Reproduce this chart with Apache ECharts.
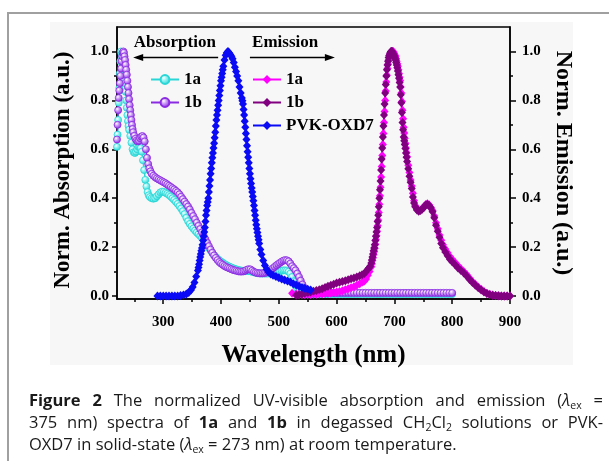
<!DOCTYPE html>
<html>
<head>
<meta charset="utf-8">
<script src="https://cdn.jsdelivr.net/npm/echarts@6/dist/echarts.min.js"></script>
<style>
  body { margin: 0; background: #fff; width: 609px; height: 461px; overflow: hidden; position: relative; }
  #frame { position: absolute; left: 7px; top: 12px; width: 700px; height: 500px; border-left: 2px solid #a0a0a0; border-top: 2px solid #a0a0a0; }
  #plotbg { position: absolute; left: 50px; top: 22px; width: 523px; height: 343px; background: #f7f7f7; }
  #chart { position: absolute; left: 0; top: 0; width: 609px; height: 461px; }
  #caption { position: absolute; left: 29px; top: 389px; width: 574px; font-family: "Open Sans", sans-serif; font-size: 16.5px; line-height: 22px; color: #1a1a1a; }
  #caption div { white-space: nowrap; }
  #caption .j { text-align: justify; text-align-last: justify; }
  #caption sub { font-size: 10.5px; line-height: 0; vertical-align: -3px; }
</style>
</head>
<body>
<div id="frame"></div>
<div id="plotbg"></div>
<div id="chart"></div>
<div id="caption">
  <div class="j"><b>Figure 2</b> The normalized UV-visible absorption and emission (<i>λ</i><sub>ex</sub> =</div>
  <div class="j">375 nm) spectra of <b>1a</b> and <b>1b</b> in degassed CH<sub>2</sub>Cl<sub>2</sub> solutions or PVK-</div>
  <div>OXD7 in solid-state (<i>λ</i><sub>ex</sub> = 273 nm) at room temperature.</div>
</div>
<script>
// tick positions
var xMajorTicks = [300, 400, 500, 600, 700, 800, 900];
var xMinorTicks = [250, 350, 450, 550, 650, 750, 850];
var yMajorTicks = [0, 0.2, 0.4, 0.6, 0.8, 1.0];
var yMinorTicks = [0.1, 0.3, 0.5, 0.7, 0.9];

// absorption 1a (CH2Cl2), [nm, norm. abs]
var abs1a = [
  [220,0.61],[221,0.66],[222,0.72],[223,0.79],[224,0.85],[225,0.91],[226,0.96],[227,1.0],[228,0.99],[229,0.98],
  [230,0.965],[231,0.95],[232,0.93],[233,0.9],[234,0.87],[235,0.835],[236,0.8],[237,0.77],[238,0.74],[239,0.715],
  [240,0.695],[241,0.68],[243,0.655],[245,0.627],[247,0.6],[249,0.588],[251,0.585],[253,0.59],[255,0.6],[257,0.61],
  [259,0.61],[261,0.605],[263,0.59],[265,0.555],[267,0.515],[269,0.475],[271,0.448],[273,0.425],[275,0.412],[277,0.405],
  [280,0.4],[283,0.398],[286,0.4],[289,0.408],[292,0.416],[295,0.424],[298,0.427],[301,0.426],[304,0.422],[307,0.418],
  [310,0.413],[313,0.407],[316,0.4],[319,0.393],[322,0.385],[325,0.377],[328,0.368],[331,0.358],[334,0.347],[337,0.335],
  [340,0.32],[343,0.306],[346,0.295],[349,0.285],[352,0.276],[355,0.268],[358,0.26],[361,0.253],[364,0.246],[367,0.238],
  [370,0.228],[373,0.217],[376,0.206],[379,0.196],[382,0.186],[385,0.176],[388,0.167],[391,0.159],[394,0.152],[397,0.146],
  [400,0.141],[403,0.136],[406,0.131],[409,0.127],[412,0.123],[415,0.12],[418,0.117],[421,0.114],[424,0.111],[427,0.109],
  [430,0.107],[433,0.105],[436,0.104],[439,0.103],[442,0.102],[445,0.102],[448,0.102],[451,0.101],[454,0.099],[457,0.097],
  [460,0.095],[463,0.094],[466,0.093],[469,0.092],[472,0.092],[475,0.092],[478,0.092],[481,0.092],[484,0.093],[487,0.094],
  [490,0.095],[493,0.097],[496,0.099],[499,0.1],[502,0.102],[505,0.104],[508,0.105],[511,0.105],[514,0.104],[517,0.1],
  [520,0.092],[523,0.078],[526,0.06],[529,0.042],[532,0.028],[535,0.018],[538,0.012],[542,0.009],[546,0.008],[550,0.008],
  [555,0.008],[560,0.008],[565,0.008],[570,0.008],[575,0.008],[580,0.008],[585,0.008],[590,0.008],[595,0.008],[600,0.008],
  [605,0.008],[610,0.008],[615,0.008],[620,0.008],[625,0.008],[630,0.008],[635,0.008],[640,0.008],[645,0.008],[650,0.008],
  [655,0.008],[660,0.008],[665,0.008],[670,0.008],[675,0.008],[680,0.008],[685,0.008],[690,0.008],[695,0.008],[700,0.008],
  [705,0.008],[710,0.008],[715,0.008],[720,0.008],[725,0.008],[730,0.008],[735,0.008],[740,0.008],[745,0.008],[750,0.008],
  [755,0.008],[760,0.008],[765,0.008],[770,0.008],[775,0.008],[780,0.008],[785,0.008],[790,0.008],[795,0.008],[800,0.008]
];

// absorption 1b (CH2Cl2)
var abs1b = [
  [220,0.64],[221,0.7],[222,0.76],[223,0.81],[224,0.84],[225,0.87],[226,0.9],[227,0.93],[228,0.96],[229,0.98],
  [230,0.995],[231,1.0],[232,0.995],[233,0.98],[234,0.965],[235,0.945],[236,0.925],[237,0.905],[238,0.88],[239,0.855],
  [240,0.83],[241,0.805],[242,0.78],[243,0.76],[244,0.74],[245,0.72],[246,0.7],[247,0.683],[248,0.67],[250,0.655],
  [252,0.643],[254,0.636],[256,0.632],[258,0.635],[260,0.645],[262,0.652],[264,0.654],[266,0.648],[268,0.632],[270,0.6],
  [272,0.565],[274,0.54],[276,0.522],[278,0.51],[280,0.5],[283,0.492],[286,0.486],[289,0.481],[292,0.477],[295,0.473],
  [298,0.469],[301,0.465],[304,0.461],[307,0.456],[310,0.451],[313,0.446],[316,0.441],[319,0.436],[322,0.43],[325,0.424],
  [328,0.416],[331,0.406],[334,0.396],[337,0.386],[340,0.376],[343,0.366],[346,0.354],[349,0.34],[352,0.327],[355,0.314],
  [358,0.3],[361,0.287],[364,0.274],[367,0.26],[370,0.246],[373,0.232],[376,0.218],[379,0.204],[382,0.19],[385,0.177],
  [388,0.166],[391,0.156],[394,0.147],[397,0.139],[400,0.133],[403,0.128],[406,0.123],[409,0.119],[412,0.116],[415,0.113],
  [418,0.11],[421,0.107],[424,0.105],[427,0.103],[430,0.101],[433,0.1],[436,0.1],[439,0.101],[442,0.104],[445,0.108],
  [448,0.11],[451,0.109],[454,0.104],[457,0.099],[460,0.096],[463,0.094],[466,0.093],[469,0.093],[472,0.093],[475,0.094],
  [478,0.096],[481,0.099],[484,0.103],[487,0.108],[490,0.114],[493,0.12],[496,0.126],[499,0.131],[502,0.136],[505,0.141],
  [508,0.145],[511,0.147],[514,0.146],[517,0.142],[520,0.133],[523,0.122],[526,0.114],[529,0.105],[532,0.092],[535,0.078],
  [538,0.063],[541,0.047],[544,0.033],[547,0.023],[550,0.017],[553,0.015],
  [555,0.013],[560,0.013],[565,0.013],[570,0.013],[575,0.013],[580,0.013],[585,0.013],[590,0.013],[595,0.013],[600,0.013],
  [605,0.013],[610,0.013],[615,0.013],[620,0.013],[625,0.013],[630,0.013],[635,0.013],[640,0.013],[645,0.013],[650,0.013],
  [655,0.013],[660,0.013],[665,0.013],[670,0.013],[675,0.013],[680,0.013],[685,0.013],[690,0.013],[695,0.013],[700,0.013],
  [705,0.013],[710,0.013],[715,0.013],[720,0.013],[725,0.013],[730,0.013],[735,0.013],[740,0.013],[745,0.013],[750,0.013],
  [755,0.013],[760,0.013],[765,0.013],[770,0.013],[775,0.013],[780,0.013],[785,0.013],[790,0.013],[795,0.013],[800,0.013]
];

// emission 1a (CH2Cl2, λex = 375 nm)
var em1a = [
  [523,0.012],[530,0.008],[535,0.007],[540,0.006],[545,0.006],[550,0.006],[555,0.006],[560,0.007],[565,0.007],[570,0.008],
  [575,0.009],[580,0.01],[585,0.011],[590,0.013],[595,0.015],[600,0.017],[605,0.019],[610,0.022],[615,0.026],[620,0.03],
  [625,0.034],[630,0.038],[635,0.044],[640,0.05],[645,0.057],[648,0.062],[651,0.07],[654,0.085],[657,0.1],[660,0.12],
  [661,0.132],[662,0.145],[663,0.157],[664,0.17],[665,0.182],[666,0.195],[667,0.212],[668,0.23],[669,0.247],[670,0.265],
  [671,0.287],[672,0.31],[673,0.342],[674,0.375],[675,0.41],[676,0.445],[677,0.487],[678,0.53],[679,0.575],[680,0.62],
  [681,0.665],[682,0.71],[683,0.755],[684,0.8],[685,0.838],[686,0.875],[687,0.903],[688,0.93],[689,0.948],[690,0.965],
  [691,0.975],[692,0.985],[693,0.99],[694,0.995],[695,0.998],[696,1.0],[697,1.0],[698,1.0],[699,0.995],[700,0.99],
  [701,0.985],[702,0.98],[703,0.97],[704,0.96],[705,0.95],[706,0.94],[707,0.925],[708,0.91],[709,0.895],[710,0.88],
  [711,0.855],[712,0.83],[713,0.795],[714,0.76],[715,0.725],[716,0.69],[717,0.667],[718,0.645],[719,0.625],[720,0.605],
  [721,0.587],[722,0.57],[724,0.535],[726,0.505],[728,0.475],[730,0.45],[732,0.42],[734,0.39],[736,0.37],[739,0.355],[742,0.35],
  [745,0.352],[748,0.357],[751,0.365],[754,0.373],[757,0.377],[760,0.373],[763,0.363],[766,0.35],[769,0.327],[772,0.3],
  [775,0.275],[778,0.25],[781,0.228],[784,0.21],[788,0.192],[792,0.177],[796,0.162],[800,0.15],[805,0.137],[810,0.124],
  [815,0.112],[820,0.1],[825,0.088],[830,0.074],[835,0.06],[840,0.048],[845,0.037],[850,0.028],[855,0.019],[860,0.012],
  [865,0.007],[870,0.004],[875,0.002],[880,0.001],[885,0],[890,0],[895,0],[900,0]
];

// emission 1b (CH2Cl2, λex = 375 nm)
var em1b = [
  [530,0.003],[535,0.005],[540,0.008],[545,0.011],[550,0.014],[555,0.017],[560,0.02],[565,0.023],[570,0.026],[575,0.03],
  [580,0.035],[585,0.04],[590,0.044],[595,0.048],[600,0.053],[605,0.056],[610,0.06],[615,0.063],[620,0.067],[625,0.071],
  [630,0.074],[635,0.078],[640,0.083],[644,0.087],[648,0.092],[651,0.1],[654,0.11],[656,0.115],[658,0.122],[660,0.135],
  [661,0.147],[662,0.16],[663,0.172],[664,0.185],[665,0.197],[666,0.21],[667,0.227],[668,0.245],[669,0.262],[670,0.28],
  [671,0.305],[672,0.33],[673,0.365],[674,0.4],[675,0.435],[676,0.47],[677,0.515],[678,0.56],[679,0.605],[680,0.65],
  [681,0.695],[682,0.74],[683,0.785],[684,0.83],[685,0.865],[686,0.9],[687,0.925],[688,0.945],[689,0.96],[690,0.975],
  [691,0.983],[692,0.99],[693,0.996],[694,1.0],[695,1.0],[696,1.0],[697,0.995],[698,0.99],[699,0.985],[700,0.98],
  [701,0.973],[702,0.965],[703,0.955],[704,0.945],[705,0.933],[706,0.92],[707,0.905],[708,0.89],[709,0.873],[710,0.855],
  [711,0.823],[712,0.79],[713,0.75],[714,0.71],[715,0.68],[716,0.65],[717,0.635],[718,0.62],[719,0.603],[720,0.585],
  [721,0.567],[722,0.55],[724,0.52],[726,0.49],[728,0.465],[730,0.44],[732,0.405],[734,0.38],[736,0.365],[739,0.352],[742,0.347],
  [745,0.35],[748,0.355],[751,0.362],[754,0.372],[757,0.375],[760,0.37],[763,0.36],[766,0.345],[769,0.32],[772,0.29],
  [775,0.265],[778,0.24],[781,0.215],[784,0.198],[788,0.18],[792,0.165],[796,0.15],[800,0.14],[805,0.128],[810,0.115],
  [815,0.105],[820,0.094],[825,0.082],[830,0.068],[835,0.055],[840,0.044],[845,0.034],[850,0.025],[855,0.017],[860,0.01],
  [865,0.005],[870,0.003],[875,0.002],[880,0.001],[885,0],[890,0],[895,0],[900,0]
];

// emission PVK-OXD7 (solid state, λex = 273 nm)
var emPVK = [
  [290,0],[295,0],[300,0],[305,0],[310,0],[315,0],[320,0],[325,0],[330,0.002],[335,0.004],
  [340,0.008],[344,0.015],[348,0.025],[351,0.037],[354,0.055],[357,0.08],[360,0.105],[361,0.117],[362,0.13],[363,0.145],
  [364,0.16],[365,0.172],[366,0.185],[367,0.197],[368,0.21],[369,0.227],[370,0.245],[371,0.262],[372,0.28],[373,0.305],
  [374,0.33],[375,0.35],[376,0.37],[377,0.385],[378,0.4],[379,0.425],[380,0.45],[381,0.475],[382,0.5],[383,0.522],
  [384,0.545],[385,0.565],[386,0.585],[387,0.605],[388,0.625],[389,0.647],[390,0.67],[391,0.695],[392,0.72],[393,0.74],
  [394,0.76],[395,0.78],[396,0.8],[397,0.82],[398,0.84],[399,0.86],[400,0.88],[401,0.895],[402,0.91],[403,0.925],
  [404,0.94],[406,0.965],[408,0.985],[410,0.995],[412,1.0],[414,0.995],[416,0.988],[418,0.98],[420,0.97],[422,0.955],
  [424,0.935],[426,0.918],[428,0.9],[430,0.88],[432,0.855],[434,0.83],[436,0.81],[437,0.798],[438,0.785],[439,0.763],
  [440,0.74],[441,0.715],[442,0.69],[443,0.665],[444,0.64],[445,0.615],[446,0.59],[447,0.567],[448,0.545],[449,0.522],
  [450,0.5],[451,0.48],[452,0.46],[453,0.442],[454,0.425],[455,0.407],[456,0.39],[457,0.37],[458,0.35],[459,0.33],
  [460,0.31],[461,0.292],[462,0.275],[463,0.26],[464,0.245],[465,0.23],[466,0.215],[468,0.19],[470,0.17],[473,0.145],
  [476,0.125],[479,0.11],[482,0.098],[486,0.09],[490,0.085],[495,0.08],[500,0.075],[505,0.07],[510,0.066],[515,0.062],
  [520,0.057],[525,0.05],[530,0.045],[535,0.04],[540,0.035],[545,0.032],[550,0.028],[555,0.025]
];

var legendNames = { abs1a: '1a', abs1b: '1b', em1a: '1a', em1b: '1b', emPVK: 'PVK-OXD7' };

var serif = 'Liberation Serif';
var axisColor = '#000';

function ball(edge, light) {
  return {
    type: 'radial', x: 0.38, y: 0.35, r: 0.65,
    colorStops: [{ offset: 0, color: '#ffffff' }, { offset: 0.35, color: light }, { offset: 1, color: edge }]
  };
}

function absSeries(name, data, edge, light) {
  return {
    name: name, type: 'line', data: data,
    symbol: 'circle', symbolSize: 7,
    lineStyle: { color: edge, width: 1.5 },
    itemStyle: { color: ball(edge, light), borderColor: edge, borderWidth: 0.8 },
    emphasis: { disabled: true }, animation: false
  };
}

function emSeries(name, data, color) {
  return {
    name: name, type: 'line', data: data,
    symbol: 'diamond', symbolSize: [8, 9],
    lineStyle: { color: color, width: 1.5 },
    itemStyle: { color: color },
    emphasis: { disabled: true }, animation: false
  };
}

var tickLabel = { fontFamily: serif, fontWeight: 'bold', fontSize: 15, color: '#000' };
var legendText = { fontFamily: serif, fontWeight: 'bold', fontSize: 17, lineHeight: 17, color: '#000' };

var chart = echarts.init(document.getElementById('chart'), null, { renderer: 'canvas' });

var option = {
  backgroundColor: 'transparent',
  animation: false,
  grid: { left: 117, right: 99, top: 27, bottom: 162, show: true, borderColor: axisColor, borderWidth: 1.5, backgroundColor: 'transparent' },
  legend: [
    {
      data: ['abs1a', 'abs1b'], orient: 'vertical', left: 145, top: 66, itemWidth: 28, itemHeight: 11, itemGap: 6,
      selectedMode: false, formatter: function (n) { return legendNames[n]; }, textStyle: legendText
    },
    {
      data: ['em1a', 'em1b', 'emPVK'], orient: 'vertical', left: 247, top: 66, itemWidth: 28, itemHeight: 11, itemGap: 6,
      selectedMode: false, formatter: function (n) { return legendNames[n]; }, textStyle: legendText
    }
  ],
  xAxis: [
    {
      type: 'value', min: 220, max: 900, position: 'bottom',
      name: 'Wavelength (nm)', nameLocation: 'middle', nameGap: 44,
      nameTextStyle: { fontFamily: serif, fontWeight: 'bold', fontSize: 25, color: '#000' },
      axisLine: { onZero: false, lineStyle: { color: axisColor, width: 1.5 } },
      axisTick: { customValues: xMajorTicks, length: 5, lineStyle: { color: axisColor, width: 1.5 } },
      axisLabel: Object.assign({ customValues: xMajorTicks, margin: 16 }, tickLabel),
      splitLine: { show: false }
    },
    {
      type: 'value', min: 220, max: 900, position: 'bottom',
      axisLine: { show: false, onZero: false },
      axisTick: { customValues: xMinorTicks, length: 3, lineStyle: { color: axisColor, width: 1.5 } },
      axisLabel: { show: false }, splitLine: { show: false }
    }
  ],
  yAxis: [
    {
      type: 'value', min: -0.012, max: 1.1, position: 'left',
      name: 'Norm. Absorption (a.u.)', nameLocation: 'middle', nameGap: 42,
      nameTextStyle: { fontFamily: serif, fontWeight: 'bold', fontSize: 23, color: '#000', padding: [0, 14, 0, 0] },
      axisLine: { onZero: false, lineStyle: { color: axisColor, width: 1.5 } },
      axisTick: { customValues: yMajorTicks, length: 5, lineStyle: { color: axisColor, width: 1.5 } },
      axisLabel: Object.assign({ customValues: yMajorTicks, margin: 8, formatter: function (v) { return v.toFixed(1); } }, tickLabel),
      splitLine: { show: false }
    },
    {
      type: 'value', min: -0.012, max: 1.1, position: 'left',
      axisLine: { show: false, onZero: false },
      axisTick: { customValues: yMinorTicks, length: 3, lineStyle: { color: axisColor, width: 1.5 } },
      axisLabel: { show: false }, splitLine: { show: false }
    },
    {
      type: 'value', min: -0.012, max: 1.1, position: 'right',
      name: 'Norm. Emission (a.u.)', nameLocation: 'middle', nameGap: 36, nameRotate: -90,
      nameTextStyle: { fontFamily: serif, fontWeight: 'bold', fontSize: 24, color: '#000' },
      axisLine: { onZero: false, lineStyle: { color: axisColor, width: 1.5 } },
      axisTick: { customValues: yMajorTicks, length: 6, lineStyle: { color: axisColor, width: 1.5 } },
      axisLabel: Object.assign({ customValues: yMajorTicks, margin: 12, formatter: function (v) { return v.toFixed(1); } }, tickLabel),
      splitLine: { show: false }
    },
    {
      type: 'value', min: -0.012, max: 1.1, position: 'right',
      axisLine: { show: false, onZero: false },
      axisTick: { customValues: yMinorTicks, length: 3, lineStyle: { color: axisColor, width: 1.5 } },
      axisLabel: { show: false }, splitLine: { show: false }
    }
  ],
  series: [
    absSeries('abs1a', abs1a, '#2ad6d6', '#9ff5f5'),
    absSeries('abs1b', abs1b, '#8a2be2', '#d2a8f7'),
    emSeries('em1a', em1a, '#ff00ff'),
    emSeries('em1b', em1b, '#800080'),
    emSeries('emPVK', emPVK, '#0a0af5')
  ]
};

chart.setOption(option);

// "Absorption" / "Emission" labels with arrows, placed in data coordinates
function px(p) { return chart.convertToPixel({ xAxisIndex: 0, yAxisIndex: 0 }, p); }
var absFrom = px([395, 0.975]), absTo = px([248, 0.975]);
var emFrom = px([450, 0.975]), emTo = px([597, 0.975]);
var absText = px([320, 1.036]), emText = px([511, 1.036]);
var noteStyle = { fontFamily: serif, fontWeight: 'bold', fontSize: 17, fill: '#000', align: 'center', verticalAlign: 'middle' };

function arrow(from, to) {
  var dir = to[0] > from[0] ? 1 : -1;
  return [
    { type: 'line', shape: { x1: from[0], y1: from[1], x2: to[0] - dir * 6, y2: to[1] }, style: { stroke: '#000', lineWidth: 1.5 } },
    { type: 'polygon', shape: { points: [[to[0], to[1]], [to[0] - dir * 10, to[1] - 3.5], [to[0] - dir * 10, to[1] + 3.5]] }, style: { fill: '#000' } }
  ];
}

chart.setOption({
  graphic: [].concat(
    arrow(absFrom, absTo),
    arrow(emFrom, emTo),
    [
      { type: 'text', x: absText[0], y: absText[1], style: Object.assign({ text: 'Absorption' }, noteStyle) },
      { type: 'text', x: emText[0], y: emText[1], style: Object.assign({ text: 'Emission' }, noteStyle) }
    ]
  )
});
</script>
</body>
</html>
